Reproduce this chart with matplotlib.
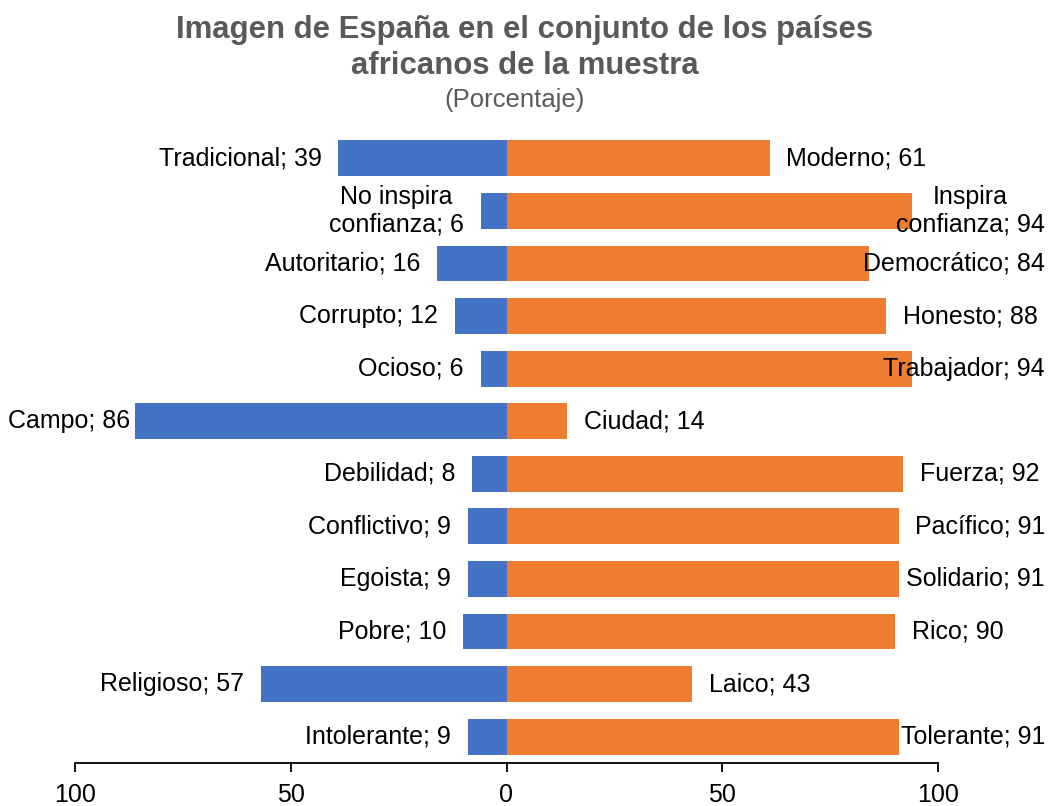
import matplotlib
matplotlib.use("Agg")
import matplotlib.pyplot as plt
from matplotlib.ticker import FuncFormatter

plt.rcParams['font.family'] = ['Liberation Sans', 'DejaVu Sans']

# data, top to bottom
left_labels = ['Tradicional', 'No inspira\nconfianza', 'Autoritario', 'Corrupto', 'Ocioso', 'Campo',
               'Debilidad', 'Conflictivo', 'Egoista', 'Pobre', 'Religioso', 'Intolerante']
left_values = [39, 6, 16, 12, 6, 86, 8, 9, 9, 10, 57, 9]
right_labels = ['Moderno', 'Inspira\nconfianza', 'Democrático', 'Honesto', 'Trabajador', 'Ciudad',
                'Fuerza', 'Pacífico', 'Solidario', 'Rico', 'Laico', 'Tolerante']
right_values = [61, 94, 84, 88, 94, 14, 92, 91, 91, 90, 43, 91]
ticks = [-100, -50, 0, 50, 100]

blue = '#4472C4'
orange = '#ED7D31'

fig = plt.figure(figsize=(10.49, 8.06), dpi=100)
ax = fig.add_axes([75 / 1049, 1 - 763 / 806, 863 / 1049, 631 / 806])

y = list(range(len(left_values)))
ax.barh(y, [-v for v in left_values], height=0.68, color=blue)
ax.barh(y, right_values, height=0.68, color=orange)

ax.set_xlim(-100, 100)
ax.set_ylim(len(y) - 0.5, -0.5)
ax.set_xticks(ticks)
ax.xaxis.set_major_formatter(FuncFormatter(lambda v, p: f'{abs(v):.0f}'))
ax.tick_params(axis='x', direction='out', length=6.5, width=1.3, pad=8, labelsize=18)
ax.tick_params(axis='y', left=False, labelleft=False)
for s in ['top', 'right', 'left']:
    ax.spines[s].set_visible(False)
ax.spines['bottom'].set_linewidth(1.3)

# data labels
left_txt = []
right_txt = []
for i in y:
    t = ax.annotate(f'{left_labels[i]}; {left_values[i]}', (-left_values[i], i),
                    xytext=(-12, 0), textcoords='offset points', ha='right', va='center',
                    ma='center', fontsize=18, color='black')
    left_txt.append(t)
    t = ax.annotate(f'{right_labels[i]}; {right_values[i]}', (right_values[i], i),
                    xytext=(12, 0), textcoords='offset points', ha='left', va='center',
                    ma='center', fontsize=18, color='black')
    right_txt.append(t)

# keep labels inside the chart area
fig.canvas.draw()
r = fig.canvas.get_renderer()
for t in right_txt:
    bb = t.get_window_extent(r)
    over = bb.x1 - 1045
    if over > 0:
        t.xyann = (12 - over * 72 / fig.dpi, 0)
for t in left_txt:
    bb = t.get_window_extent(r)
    over = 8 - bb.x0
    if over > 0:
        t.xyann = (-12 + over * 72 / fig.dpi, 0)

fig.text(0.5, 1 - 30 / 806, 'Imagen de España en el conjunto de los países', ha='center', va='center',
         fontsize=22.4, fontweight='bold', color='#595959')
fig.text(0.5, 1 - 66 / 806, 'africanos de la muestra', ha='center', va='center',
         fontsize=22.4, fontweight='bold', color='#595959')
fig.text(515 / 1049, 1 - 100 / 806, '(Porcentaje)', ha='center', va='center',
         fontsize=18.5, color='#595959')

fig.savefig('out.png', dpi=100)
